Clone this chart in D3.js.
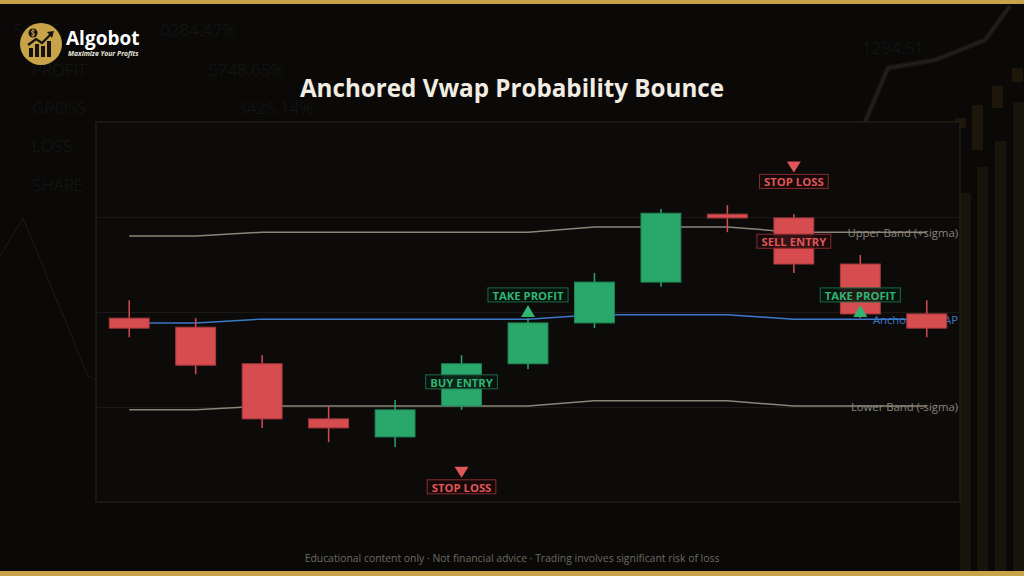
<!DOCTYPE html>
<html>
<head>
<meta charset="utf-8">
<script src="https://cdn.jsdelivr.net/npm/d3@7/dist/d3.min.js"></script>
<style>
  html, body { margin: 0; padding: 0; background: #0a0908; }
  svg { display: block; }
  text { font-family: "Open Sans", "Noto Sans", sans-serif; }
</style>
</head>
<body>
<div id="chart"></div>
<script>
// bars on the chart, left to right
var bars = [1, 2, 3, 4, 5, 6, 7, 8, 9, 10, 11, 12, 13];

var open  = [99.87, 99.68, 98.91, 97.75, 97.37, 98.02, 98.91, 99.77, 100.63, 102.06, 101.98, 101.01, 99.96];
var high  = [100.25, 99.87, 99.09, 98.02, 98.15, 99.09, 99.87, 100.82, 102.17, 102.25, 102.06, 101.20, 100.25];
var low   = [99.47, 98.69, 97.56, 97.26, 97.16, 97.94, 98.80, 99.66, 100.53, 101.68, 100.82, 99.87, 99.47];
var close = [99.66, 98.88, 97.75, 97.56, 97.94, 98.91, 99.77, 100.63, 102.08, 101.98, 101.01, 99.96, 99.66];

var upperBand = [101.60, 101.60, 101.68, 101.68, 101.68, 101.68, 101.68, 101.79, 101.79, 101.79, 101.68, 101.68, 101.68];
var vwap      = [99.77, 99.77, 99.85, 99.85, 99.85, 99.85, 99.85, 99.94, 99.94, 99.94, 99.85, 99.85, 99.85];
var lowerBand = [97.94, 97.94, 98.02, 98.02, 98.02, 98.02, 98.02, 98.13, 98.13, 98.13, 98.02, 98.02, 98.02];

var lineNames = ["Upper Band (+sigma)", "Anchored VWAP", "Lower Band (-sigma)"];

// trade signals: bar, label, price of the tag
var signalBars   = [6, 6, 7, 11, 11, 12];
var signalLabels = ["BUY ENTRY", "STOP LOSS", "TAKE PROFIT", "SELL ENTRY", "STOP LOSS", "TAKE PROFIT"];
var signalPrices = [98.53, 96.32, 100.36, 101.49, 102.75, 100.36];

var title = "Anchored Vwap Probability Bounce";
var footer = "Educational content only  \u00b7  Not financial advice  \u00b7  Trading involves significant risk of loss";

// faint backdrop words
var ghostWords = ["SALES", "0284.47%", "PROFIT", "5748.65%", "GROSS", "3425.14%", "LOSS", "SHARE", "1294.51"];

var W = 1024, H = 576;
var plot = {left: 96, right: 960, top: 122, bottom: 502};

var red = "#d64c4f", redDark = "#a83a3d",
    green = "#2aa86c", greenDark = "#1f8654";

var svg = d3.select("#chart").append("svg")
    .attr("width", W)
    .attr("height", H);

svg.append("rect").attr("width", W).attr("height", H).attr("fill", "#0a0908");

// ---- backdrop ----
var bg = svg.append("g").attr("class", "backdrop");

var ghostPos = [[14, 36], [160, 36], [32, 76], [208, 76], [32, 114], [237, 114], [32, 152], [32, 191], [862, 54]];
bg.selectAll("text")
    .data(ghostWords)
    .enter()
    .append("text")
    .attr("x", function(d, i){ return ghostPos[i][0]; })
    .attr("y", function(d, i){ return ghostPos[i][1]; })
    .attr("fill", "#181715")
    .attr("font-size", 17)
    .attr("font-weight", 300)
    .text(function(d){ return d; });

bg.append("path")
    .attr("d", "M0,256 L23,218 L88,376 L96,380")
    .attr("fill", "none")
    .attr("stroke", "#1a1816")
    .attr("stroke-width", 1.2);

bg.append("path")
    .attr("d", "M865,122 L888,68 L935,60 L985,40 L1010,6")
    .attr("fill", "none")
    .attr("stroke", "#1a1812")
    .attr("stroke-width", 5);
bg.append("path")
    .attr("d", "M865,122 L888,68 L935,60 L985,40 L1010,6")
    .attr("fill", "none")
    .attr("stroke", "#23221f")
    .attr("stroke-width", 1.5);

var sideBars = [[960, 193], [977, 167], [995, 141], [1013, 102]];
bg.selectAll("rect.side")
    .data(sideBars)
    .enter()
    .append("rect")
    .attr("class", "side")
    .attr("x", function(d){ return d[0]; })
    .attr("y", function(d){ return d[1]; })
    .attr("width", 11)
    .attr("height", function(d){ return 571 - d[1]; })
    .attr("fill", "#17140b");

var sideCandles = [[955, 118, 10], [972, 105, 45], [992, 86, 22], [1012, 68, 14]];
bg.selectAll("rect.sc")
    .data(sideCandles)
    .enter()
    .append("rect")
    .attr("class", "sc")
    .attr("x", function(d){ return d[0]; })
    .attr("y", function(d){ return d[1]; })
    .attr("width", 11)
    .attr("height", function(d){ return d[2]; })
    .attr("fill", "#1c160b");

// gold frame
svg.append("rect").attr("x", 0).attr("y", 0).attr("width", W).attr("height", 4).attr("fill", "#c9a34a");
svg.append("rect").attr("x", 0).attr("y", 571).attr("width", W).attr("height", 5).attr("fill", "#c9a34a");

// ---- logo ----
var logo = svg.append("g").attr("transform", "translate(41,44)");
logo.append("circle").attr("r", 21).attr("fill", "#c9a34a");
var iconBars = [[-12, 4, 9], [-6, 0, 13], [0, 2, 11], [6, -3, 16]];
logo.selectAll("rect")
    .data(iconBars)
    .enter()
    .append("rect")
    .attr("x", function(d){ return d[0]; })
    .attr("y", function(d){ return d[1]; })
    .attr("width", 4)
    .attr("height", function(d){ return d[2]; })
    .attr("fill", "#15130f");
logo.append("path")
    .attr("d", "M-13,1 L-5,-5 L1,-1 L10,-10")
    .attr("fill", "none")
    .attr("stroke", "#15130f")
    .attr("stroke-width", 2.2);
logo.append("path").attr("d", "M6,-12 L13,-13 L11,-6 Z").attr("fill", "#15130f");
logo.append("circle").attr("cx", -8).attr("cy", -11).attr("r", 4.5).attr("fill", "#15130f");
// coin glyph drawn as a small S-stroke
logo.append("path")
    .attr("d", "M-6.3,-13 Q-8,-14.3 -9.5,-13 Q-10,-11.3 -8,-11 Q-6,-10.7 -6.5,-9 Q-8,-7.7 -9.8,-9 M-8,-15 L-8,-7")
    .attr("fill", "none")
    .attr("stroke", "#c9a34a")
    .attr("stroke-width", 0.9);

svg.append("text")
    .attr("x", 66).attr("y", 45)
    .attr("fill", "#ffffff")
    .attr("font-family", "Liberation Sans, Arial, sans-serif")
    .attr("font-weight", 700)
    .attr("font-size", 19)
    .text("Algobot");
svg.append("text")
    .attr("x", 68).attr("y", 56)
    .attr("fill", "#e8e4dc")
    .attr("font-family", "Liberation Sans, Arial, sans-serif")
    .attr("font-weight", 700)
    .attr("font-style", "italic")
    .attr("font-size", 6.8)
    .text("Maximize Your Profits");

// ---- title & footer ----
svg.append("text")
    .attr("x", W / 2).attr("y", 97)
    .attr("text-anchor", "middle")
    .attr("fill", "#f2ede3")
    .attr("font-weight", 700)
    .attr("font-size", 24.2)
    .text(title);

svg.append("text")
    .attr("x", W / 2).attr("y", 562)
    .attr("text-anchor", "middle")
    .attr("fill", "#6d6961")
    .attr("font-size", 10.4)
    .text(footer);

// ---- chart ----
var x = d3.scalePoint()
    .domain(bars)
    .range([plot.left, plot.right])
    .padding(0.5);

var y = d3.scaleLinear()
    .domain([96, 104])
    .range([plot.bottom, plot.top]);

var bodyW = x.step() * 0.6;

svg.append("rect")
    .attr("x", plot.left).attr("y", plot.top)
    .attr("width", plot.right - plot.left)
    .attr("height", plot.bottom - plot.top)
    .attr("fill", "#0c0b0a")
    .attr("stroke", "#2a2518")
    .attr("stroke-width", 1);

var grid = svg.append("g")
    .attr("transform", "translate(" + plot.left + ",0)")
    .call(d3.axisLeft(y).ticks(4).tickSize(-(plot.right - plot.left)).tickFormat(""));
grid.select(".domain").remove();
grid.selectAll(".tick line").attr("stroke", "#1b1916");

var series = [upperBand, vwap, lowerBand];
var lineColors = ["#8c857a", "#3b78c9", "#8c857a"];

var line = d3.line()
    .x(function(d, i){ return x(bars[i]); })
    .y(function(d){ return y(d); });

svg.append("g")
    .selectAll("path")
    .data(series)
    .enter()
    .append("path")
    .attr("d", line)
    .attr("fill", "none")
    .attr("stroke", function(d, i){ return lineColors[i]; })
    .attr("stroke-width", 1.5);

svg.append("g")
    .selectAll("text")
    .data(series)
    .enter()
    .append("text")
    .attr("x", plot.right - 2)
    .attr("y", function(d){ return y(d[d.length - 1]) + 1.5; })
    .attr("text-anchor", "end")
    .attr("dominant-baseline", "middle")
    .attr("font-size", 11.3)
    .attr("fill", function(d, i){ return i == 1 ? "#3b78c9" : "#8a847a"; })
    .text(function(d, i){ return lineNames[i]; });

// candles
var candles = bars.map(function(b, i){
    return {bar: b, o: open[i], h: high[i], l: low[i], c: close[i]};
});

var cg = svg.append("g")
    .selectAll("g")
    .data(candles)
    .enter()
    .append("g");

cg.append("line")
    .attr("x1", function(d){ return x(d.bar); })
    .attr("x2", function(d){ return x(d.bar); })
    .attr("y1", function(d){ return y(d.h); })
    .attr("y2", function(d){ return y(d.l); })
    .attr("stroke", function(d){ return d.c >= d.o ? green : red; })
    .attr("stroke-width", 1.5);

cg.append("rect")
    .attr("x", function(d){ return x(d.bar) - bodyW / 2; })
    .attr("y", function(d){ return y(Math.max(d.o, d.c)); })
    .attr("width", bodyW)
    .attr("height", function(d){ return Math.max(1, Math.abs(y(d.o) - y(d.c))); })
    .attr("fill", function(d){ return d.c >= d.o ? green : red; })
    .attr("stroke", function(d){ return d.c >= d.o ? greenDark : redDark; })
    .attr("stroke-width", 1);

// signal tags
var signals = signalBars.map(function(b, i){
    return {bar: b, label: signalLabels[i], price: signalPrices[i]};
});

var tags = svg.append("g")
    .selectAll("g")
    .data(signals)
    .enter()
    .append("g")
    .attr("transform", function(d){ return "translate(" + x(d.bar) + "," + y(d.price) + ")"; });

tags.each(function(d){
    var g = d3.select(this),
        bull = d.label == "BUY ENTRY" || d.label == "TAKE PROFIT",
        col = bull ? "#30b574" : "#e0565a",
        edge = bull ? "#1d6a45" : "#8a2c2f";

    var box = g.append("rect");
    var t = g.append("text")
        .attr("text-anchor", "middle")
        .attr("dominant-baseline", "central")
        .attr("y", 0.5)
        .attr("font-size", 11.3)
        .attr("font-weight", 700)
        .attr("fill", col)
        .text(d.label);
    var w = t.node().getComputedTextLength() + 9;
    box.attr("x", -w / 2).attr("y", -7)
        .attr("width", w).attr("height", 14)
        .attr("fill", bull ? "rgba(8,20,14,0.88)" : "rgba(24,9,9,0.85)")
        .attr("stroke", edge)
        .attr("stroke-width", 1);

    if (d.label == "STOP LOSS")
        g.append("path").attr("d", "M-7,-20 L7,-20 L0,-9 Z").attr("fill", col);
    if (d.label == "TAKE PROFIT")
        g.append("path").attr("d", "M-7,22 L7,22 L0,10 Z").attr("fill", col);
});
</script>
</body>
</html>
